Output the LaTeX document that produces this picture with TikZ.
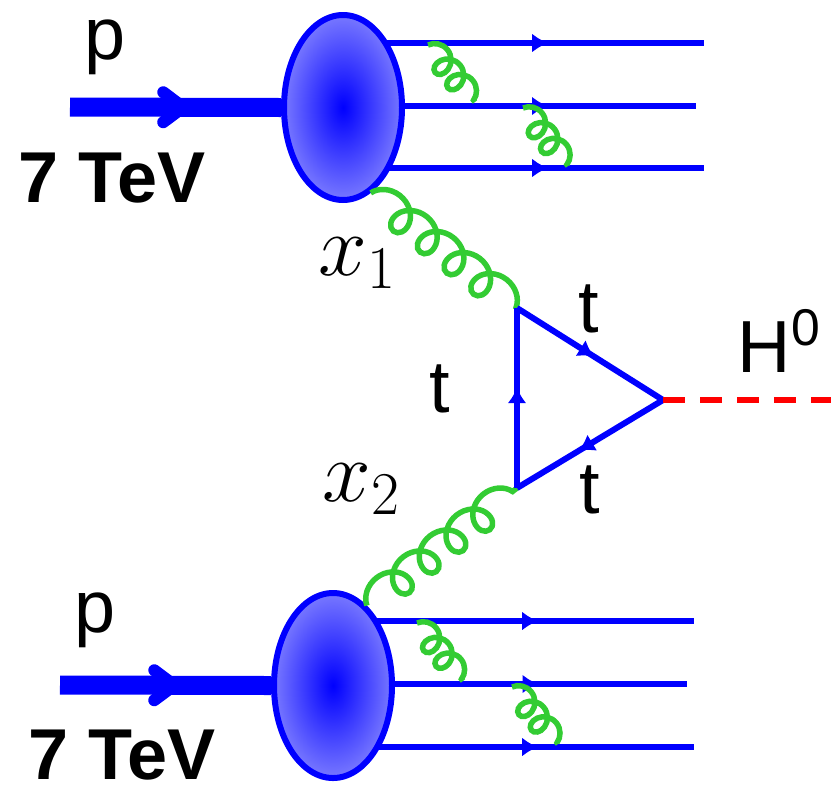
\documentclass[tikz,border=0pt]{standalone}
\usepackage{fontspec}
\setmainfont{Liberation Sans}
\usetikzlibrary{shapes.geometric,arrows.meta,decorations.markings,decorations.pathmorphing}
\definecolor{quarkblue}{RGB}{0,0,255}
\definecolor{blobedge}{RGB}{120,120,255}
\definecolor{gluongreen}{RGB}{51,204,51}
\definecolor{higgsred}{RGB}{255,0,0}
\begin{document}
\begin{tikzpicture}[x=0.1mm, y=-0.1mm, blob/.style = {ellipse, draw=quarkblue, line width=0.6mm, inner sep=0pt, minimum width=11.8mm, minimum height=18.5mm, shading=radial, inner color=quarkblue, outer color=blobedge}, beam/.style = {quarkblue, line width=1.9mm, postaction={decorate}, decoration={markings, mark=at position #1 with {\arrow{Straight Barb[length=2mm, width=3mm, line width=1.2mm, round]}}}}, quark/.style = {quarkblue, line width=0.6mm, postaction={decorate}, decoration={markings, mark=at position #1 with {\arrow{Latex[length=1.6mm, width=1.9mm]}}}}, gluon/.style = {gluongreen, line width=0.55mm, decorate, decoration={coil, segment length=3.4mm, amplitude=1.6mm, aspect=1.0}}, softgluon/.style = {gluon, decoration={coil, segment length=2mm, amplitude=1.2mm, aspect=0.9}}, higgs/.style = {higgsred, line width=0.6mm, dash pattern=on 2.2mm off 1.5mm}, lbl/.style = {inner sep=0pt, anchor=base, font=\fontsize{21}{25}\selectfont}, energy/.style = {inner sep=0pt, anchor=base, font=\fontsize{20.5}{24}\selectfont\bfseries}, frac/.style = {inner sep=0pt, anchor=base, font=\fontsize{24}{28}\selectfont}]
        \useasboundingbox (0, 0) rectangle (831, 790);

        \coordinate (pinA) at (70, 107);
        \coordinate (pinB) at (60, 685);
        \coordinate (qA1) at (704, 43);
        \coordinate (qA2) at (696, 106);
        \coordinate (qA3) at (704, 168);
        \coordinate (qB1) at (694, 621);
        \coordinate (qB2) at (687, 684);
        \coordinate (qB3) at (694, 747);
        \coordinate (vtop) at (517, 308);
        \coordinate (vbot) at (517, 488);
        \coordinate (vh) at (663, 400);
        \coordinate (hend) at (831, 400);

        \draw[quark=0.51] (qA1 -| 386, 0) -- (qA1);
        \draw[quark=0.50] (qA2 -| 400, 0) -- (qA2);
        \draw[quark=0.51] (qA3 -| 386, 0) -- (qA3);
        \draw[quark=0.51] (qB1 -| 376, 0) -- (qB1);
        \draw[quark=0.50] (qB2 -| 390, 0) -- (qB2);
        \draw[quark=0.51] (qB3 -| 376, 0) -- (qB3);

        \draw (343, 107.5) node[blob] (blobA) {};
        \draw (333, 685.5) node[blob] (blobB) {};

        \draw[beam=0.565] (pinA) -- (blobA.west);
        \draw[beam=0.57] (pinB) -- (blobB.west);

        \coordinate (gA1s) at (428, 45);
        \coordinate (gA1e) at (475, 102);
        \coordinate (gA2s) at (523, 108);
        \coordinate (gA2e) at (568, 166);
        \coordinate (gB1s) at (417, 623);
        \coordinate (gB1e) at (463, 681);
        \coordinate (gB2s) at (512, 687);
        \coordinate (gB2e) at (558, 744);
        \draw[softgluon] (gA1s) -- (gA1e);
        \draw[softgluon] (gA2s) -- (gA2e);
        \draw[softgluon] (gB1s) -- (gB1e);
        \draw[softgluon] (gB2s) -- (gB2e);
        \draw[gluon] (blobA.-72) -- (vtop);
        \draw[gluon] (blobB.67) -- (vbot);

        \draw[quark=0.53] (vtop) -- (vh);
        \draw[quark=0.58] (vh) -- (vbot);
        \draw[quark=0.56] (vbot) -- (vtop);
        \draw[higgs] (vh) -- (hend);

        \draw (105, 59) node[lbl] (pA) {p};
        \draw (95, 632) node[lbl] (pB) {p};
        \draw (112, 202) node[energy] (tevA) {7 TeV};
        \draw (122, 779) node[energy] (tevB) {7 TeV};
        \draw (358, 275) node[frac] (xa) {$x_1$};
        \draw (362, 501) node[frac] (xb) {$x_2$};
        \draw (589, 332) node[lbl] (ttop) {t};
        \draw (440, 412) node[lbl] (tleft) {t};
        \draw (590, 513) node[lbl] (tbot) {t};
        \draw (737, 372) node[lbl, anchor=base west] (higgslbl) {H\textsuperscript{0}};
\end{tikzpicture}
\end{document}
